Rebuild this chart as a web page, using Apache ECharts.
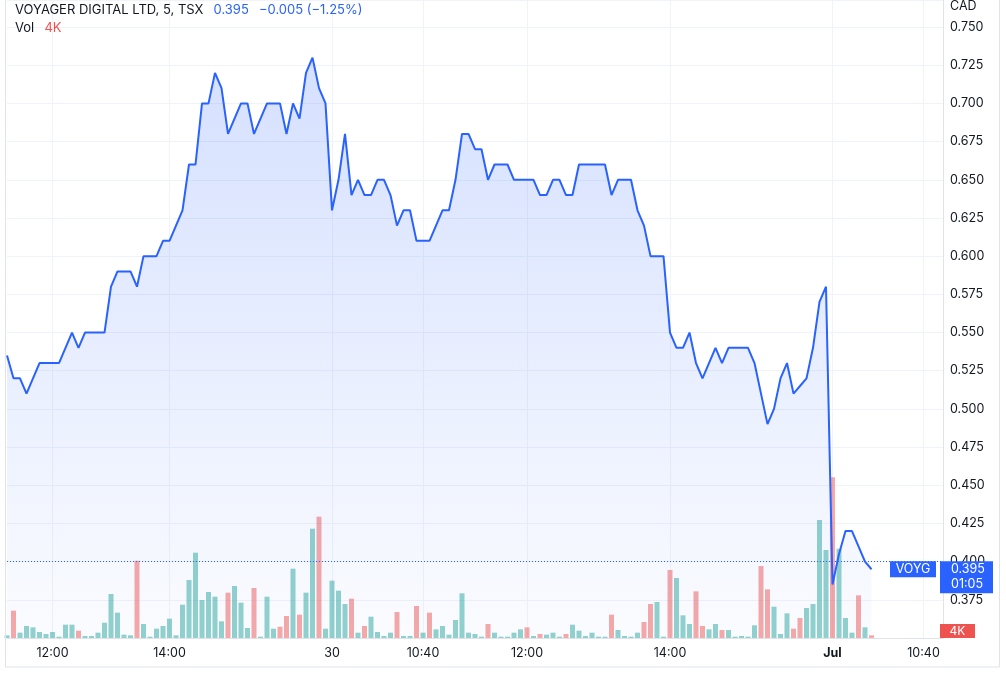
<!DOCTYPE html>
<html>
<head>
<meta charset="utf-8">
<script src="https://cdn.jsdelivr.net/npm/echarts@6/dist/echarts.min.js"></script>
<style>
html, body { margin: 0; padding: 0; background: #fff; }
#chart { width: 1006px; height: 677px; }
</style>
</head>
<body>
<div id="chart"></div>
<script>
// 5 min closes, one per bar (bars with no trades are skipped, like the source chart)
var closes = [
  0.535, 0.52, 0.52, 0.51, 0.52, 0.53, 0.53, 0.53, 0.53, 0.54,
  0.55, 0.54, 0.55, 0.55, 0.55, 0.55, 0.58, 0.59, 0.59, 0.59,
  0.58, 0.60, 0.60, 0.60, 0.61, 0.61, 0.62, 0.63, 0.66, 0.66,
  0.70, 0.70, 0.72, 0.71, 0.68, 0.69, 0.70, 0.70, 0.68, 0.69,
  0.70, 0.70, 0.70, 0.68, 0.70, 0.69, 0.72, 0.73, 0.71, 0.70,
  0.63, 0.65, 0.68, 0.64, 0.65, 0.64, 0.64, 0.65, 0.65, 0.64,
  0.62, 0.63, 0.63, 0.61, 0.61, 0.61, 0.62, 0.63, 0.63, 0.65,
  0.68, 0.68, 0.67, 0.67, 0.65, 0.66, 0.66, 0.66, 0.65, 0.65,
  0.65, 0.65, 0.64, 0.64, 0.65, 0.65, 0.64, 0.64, 0.66, 0.66,
  0.66, 0.66, 0.66, 0.64, 0.65, 0.65, 0.65, 0.63, 0.62, 0.60,
  0.60, 0.60, 0.55, 0.54, 0.54, 0.55, 0.53, 0.52, 0.53, 0.54,
  0.53, 0.54, 0.54, 0.54, 0.54, 0.53, 0.51, 0.49, 0.50, 0.52,
  0.53, 0.51, 0.515, 0.52, 0.54, 0.57, 0.58, 0.385, 0.405, 0.42,
  0.42, 0.41, 0.40, 0.395
]

// volume in thousands
var volumesK = [
  4, 41, 8, 18, 16, 9, 6, 9, 2, 20,
  20, 11, 3, 3, 8, 23, 66, 38, 5, 4,
  116, 21, 2, 14, 18, 29, 4, 50, 87, 128,
  57, 69, 62, 25, 68, 78, 53, 15, 75, 2,
  62, 14, 17, 33, 104, 35, 68, 164, 182, 14,
  86, 71, 51, 59, 8, 18, 32, 9, 3, 8,
  39, 3, 3, 48, 8, 38, 13, 18, 5, 27,
  67, 8, 6, 2, 21, 8, 2, 2, 8, 13,
  16, 3, 6, 5, 8, 2, 6, 20, 11, 3,
  8, 2, 2, 35, 12, 3, 2, 8, 24, 51,
  54, 2, 102, 90, 34, 21, 70, 18, 13, 21,
  12, 12, 2, 3, 2, 19, 108, 73, 47, 6,
  37, 14, 30, 45, 51, 177, 132, 241, 134, 30,
  8, 64, 16, 4
]

// bars that closed below their open (red volume)
var downBars = [1, 11, 20, 34, 38, 42, 43, 45, 48, 53, 55, 60, 63, 65, 74, 80, 82, 86,
  93, 98, 99, 102, 106, 107, 110, 116, 117, 121, 122, 127, 131, 133]

// time axis labels, placed on bar slots
var tickIndex = [7, 25, 50, 64, 80, 102, 127, 141]
var tickText = ['12:00', '14:00', '30', '10:40', '12:00', '14:00', 'Jul', '10:40']
var boldTicks = ['Jul']

var totalSlots = 145
var symbol = 'VOYG'
var countdown = '01:05'

var FONT = 'Inter, Roboto, sans-serif'
var UP = 'rgba(38, 166, 154, 0.5)'
var DOWN = 'rgba(239, 83, 80, 0.5)'
var BLUE = '#2962ff'

var categories = []
for (var i = 0; i < totalSlots; i++) {
  categories.push(String(i))
}

var volData = volumesK.map(function (v, idx) {
  return {value: v, itemStyle: {color: downBars.indexOf(idx) >= 0 ? DOWN : UP}}
})

var last = closes[closes.length - 1]
var prev = closes[closes.length - 2]
var chg = last - prev
var pct = chg / prev * 100
var fmtSigned = function (n, d) {
  return (n < 0 ? '\u2212' : '+') + Math.abs(n).toFixed(d)
}
var lastVol = volumesK[volumesK.length - 1]

var showTick = function (idx) {
  return tickIndex.indexOf(idx) >= 0
}

var chart = echarts.init(document.getElementById('chart'), null, {renderer: 'canvas'})

var txt = {fontFamily: FONT, fontSize: 13, fontWeight: 'normal', color: '#131722'}

var option = {
  animation: false,
  backgroundColor: '#fff',
  textStyle: {fontFamily: FONT},
  title: [{
    left: 10,
    top: -4,
    text: '{n|VOYAGER DIGITAL LTD, 5, TSX}  {b|' + last.toFixed(3) + '}  {b|' +
      fmtSigned(chg, 3) + ' (' + fmtSigned(pct, 2) + '%)}',
    textStyle: {
      fontWeight: 'normal',
      rich: {
        n: txt,
        b: Object.assign({}, txt, {color: BLUE})
      }
    }
  }, {
    left: 10,
    top: 14,
    text: '{n|Vol}  {r|' + lastVol + 'K}',
    textStyle: {
      fontWeight: 'normal',
      rich: {
        n: txt,
        r: Object.assign({}, txt, {color: '#ef5350'})
      }
    }
  }],
  grid: {
    left: 7,
    right: 63,
    top: 0,
    bottom: 39
  },
  xAxis: {
    type: 'category',
    data: categories,
    boundaryGap: false,
    axisLine: {show: true, lineStyle: {color: '#e0e3eb'}},
    axisTick: {show: false},
    axisLabel: {
      interval: showTick,
      margin: 9,
      color: '#131722',
      fontSize: 12.5,
      fontFamily: FONT,
      formatter: function (val, idx) {
        var t = tickText[tickIndex.indexOf(idx)]
        return boldTicks.indexOf(t) >= 0 ? '{b|' + t + '}' : t
      },
      rich: {
        b: {fontWeight: 'bold', fontSize: 12.5, fontFamily: FONT, color: '#131722'}
      }
    },
    splitLine: {
      show: true,
      interval: showTick,
      lineStyle: {color: '#f0f3fa'}
    }
  },
  yAxis: [{
    type: 'value',
    position: 'right',
    min: 0.35,
    max: 0.7677,
    interval: 0.025,
    axisLine: {show: true, lineStyle: {color: '#e0e3eb'}},
    axisTick: {show: false},
    splitLine: {lineStyle: {color: '#f0f3fa'}},
    axisLabel: {
      margin: 7,
      color: '#131722',
      fontSize: 12.5,
      fontFamily: FONT,
      showMinLabel: false,
      showMaxLabel: false,
      formatter: function (v) {
        return v.toFixed(3)
      }
    }
  }, {
    type: 'value',
    min: 0,
    max: 957,
    show: false
  }],
  series: [{
    name: 'Vol',
    type: 'bar',
    xAxisIndex: 0,
    yAxisIndex: 1,
    barWidth: 5,
    data: volData,
    z: 1
  }, {
    name: symbol,
    type: 'line',
    data: closes,
    symbol: 'none',
    lineStyle: {width: 2, color: BLUE},
    itemStyle: {color: BLUE},
    areaStyle: {
      color: new echarts.graphic.LinearGradient(0, 0, 0, 1, [
        {offset: 0, color: 'rgba(41, 98, 255, 0.28)'},
        {offset: 1, color: 'rgba(41, 98, 255, 0.03)'}
      ])
    },
    markLine: {
      silent: true,
      symbol: 'none',
      label: {show: false},
      lineStyle: {type: [1, 2], color: BLUE, width: 1},
      data: [{yAxis: last}]
    },
    z: 3
  }]
}

chart.setOption(option)

// price / volume tags on the right scale
var py = chart.convertToPixel({yAxisIndex: 0}, last)
var vy = Math.min(chart.convertToPixel({yAxisIndex: 1}, lastVol), 638 - 7)

chart.setOption({
  graphic: [{
    type: 'rect',
    z: 100,
    shape: {x: 5.5, y: -1, width: 994, height: 668},
    style: {fill: null, stroke: '#e0e3eb', lineWidth: 1}
  }, {
    type: 'text',
    z: 100,
    left: 950,
    top: 0,
    style: {text: 'CAD', fontSize: 12.5, fontFamily: FONT, fill: '#131722'}
  }, {
    type: 'rect',
    z: 100,
    shape: {x: 890, y: py - 8, width: 46, height: 16},
    style: {fill: BLUE}
  }, {
    type: 'text',
    z: 101,
    x: 913,
    y: py,
    style: {text: symbol, fontSize: 12.5, fontFamily: FONT, fill: '#fff', align: 'center', verticalAlign: 'middle'}
  }, {
    type: 'rect',
    z: 100,
    shape: {x: 940, y: py - 8, width: 53, height: 32},
    style: {fill: BLUE}
  }, {
    type: 'text',
    z: 101,
    x: 951,
    y: py,
    style: {text: last.toFixed(3), fontSize: 12.5, fontFamily: FONT, fill: '#fff', verticalAlign: 'middle'}
  }, {
    type: 'text',
    z: 101,
    x: 951,
    y: py + 15,
    style: {text: countdown, fontSize: 12.5, fontFamily: FONT, fill: '#fff', verticalAlign: 'middle'}
  }, {
    type: 'rect',
    z: 100,
    shape: {x: 940, y: vy - 7, width: 35, height: 14},
    style: {fill: '#ef5350'}
  }, {
    type: 'text',
    z: 101,
    x: 957.5,
    y: vy,
    style: {text: lastVol + 'K', fontSize: 12, fontFamily: FONT, fill: '#fff', align: 'center', verticalAlign: 'middle'}
  }]
})
</script>
</body>
</html>
